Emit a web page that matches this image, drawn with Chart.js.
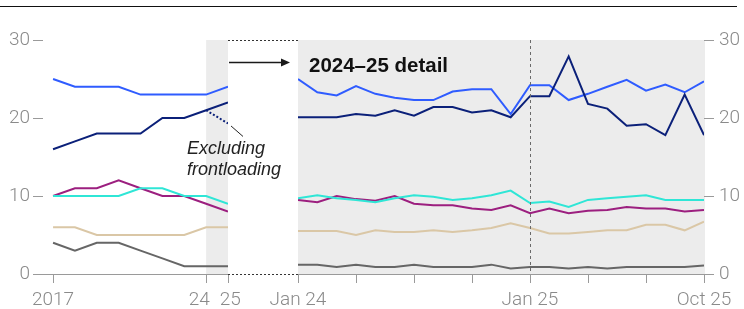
<!DOCTYPE html>
<html>
<head>
<meta charset="utf-8">
<script src="https://cdn.jsdelivr.net/npm/chart.js@4.4.1/dist/chart.umd.min.js"></script>
<style>
  html, body { margin: 0; padding: 0; background: #fff; }
  #wrap { position: relative; width: 744px; height: 309px; }
  #wrap canvas { position: absolute; left: 0; top: 0; }
</style>
</head>
<body>
<div id="wrap">
  <canvas id="annual" width="744" height="309"></canvas>
  <canvas id="monthly" width="744" height="309"></canvas>
</div>
<script>
// annual panel, 2017-2025
const years = [2017, 2018, 2019, 2020, 2021, 2022, 2023, 2024, 2025];
const yearTicks = [2017, 2024, 2025];
const navyYears = [16, 17, 18, 18, 18, 20, 20, 21, 22];
const blueYears = [25, 24, 24, 24, 23, 23, 23, 23, 24];
const cyanYears = [10, 10, 10, 10, 11, 11, 10, 10, 9];
const magentaYears = [10, 11, 11, 12, 11, 10, 10, 9, 8];
const tanYears = [6, 6, 5, 5, 5, 5, 5, 6, 6];
const grayYears = [4, 3, 4, 4, 3, 2, 1, 1, 1];
const exclFrontloading = [null, null, null, null, null, null, null, 21, 19.3];

// monthly detail, Jan 24 - Oct 25
const months = ["Jan 24", "Feb 24", "Mar 24", "Apr 24", "May 24", "Jun 24", "Jul 24", "Aug 24",
  "Sep 24", "Oct 24", "Nov 24", "Dec 24", "Jan 25", "Feb 25", "Mar 25", "Apr 25", "May 25",
  "Jun 25", "Jul 25", "Aug 25", "Sep 25", "Oct 25"];
const monthTicks = [0, 3, 6, 9, 12, 15, 18, 21];
const monthLabelled = ["Jan 24", "Jan 25", "Oct 25"];
const navyMonths = [20.1, 20.1, 20.1, 20.5, 20.3, 21.0, 20.3, 21.4, 21.4, 20.7, 21.0, 20.1,
  22.8, 22.8, 27.9, 21.8, 21.2, 19.0, 19.2, 17.8, 23.0, 17.8];
const blueMonths = [25.0, 23.3, 22.9, 24.1, 23.1, 22.6, 22.3, 22.3, 23.4, 23.7, 23.7, 20.5,
  24.2, 24.2, 22.3, 23.1, 24.0, 24.9, 23.5, 24.3, 23.3, 24.7];
const cyanMonths = [9.7, 10.1, 9.7, 9.5, 9.2, 9.7, 10.1, 9.9, 9.5, 9.7, 10.1, 10.7,
  9.1, 9.3, 8.6, 9.5, 9.7, 9.9, 10.1, 9.5, 9.5, 9.5];
const magentaMonths = [9.5, 9.2, 10.0, 9.6, 9.4, 10.0, 9.0, 8.8, 8.8, 8.4, 8.2, 8.8,
  7.8, 8.4, 7.8, 8.1, 8.2, 8.6, 8.4, 8.4, 8.0, 8.2];
const tanMonths = [5.5, 5.5, 5.5, 5.0, 5.6, 5.4, 5.4, 5.6, 5.4, 5.6, 5.9, 6.5,
  5.9, 5.2, 5.2, 5.4, 5.6, 5.6, 6.3, 6.3, 5.6, 6.7];
const grayMonths = [1.2, 1.2, 0.9, 1.2, 0.9, 0.9, 1.2, 0.9, 0.9, 0.9, 1.2, 0.7,
  0.9, 0.9, 0.7, 0.9, 0.7, 0.9, 0.9, 0.9, 0.9, 1.1];

const colors = {
  navy: "#0b2079",
  blue: "#2f5cff",
  cyan: "#2fe6d6",
  magenta: "#9c1f7f",
  tan: "#dac7a6",
  gray: "#666666"
};
const tickGray = "#8a8a8a";
const axisFont = { family: "Roboto, 'Liberation Sans', sans-serif", size: 19, weight: "300" };

const line = (data, color, extra) => Object.assign({
  data: data, borderColor: color, borderWidth: 2, pointRadius: 0, tension: 0, fill: false
}, extra || {});

const toXY = (xs, ys) => ys.map((v, i) => ({ x: xs[i], y: v }));
const idx = months.map((m, i) => i);

const yAxis = (pos, width, pad) => ({
  position: pos,
  min: 0, max: 30,
  ticks: { stepSize: 10, color: tickGray, font: axisFont, padding: pad },
  grid: {
    color: c => c.tick && c.tick.value === 0 ? "#9a9a9a" : "rgba(0,0,0,0)",
    tickColor: "#9a9a9a",
    tickLength: 10
  },
  border: { display: false },
  afterFit: s => { s.width = width; }
});

const xTickGrid = { drawOnChartArea: false, tickLength: 9, tickColor: "#9a9a9a" };

// the two close year labels are nudged apart with padding spaces, like the original
const yearLabel = v => {
  if (v === 2017) return "2017";
  if (v === 2024) return "24   ";
  return " " + String(v).slice(2);
};

// grey band for 2024-25 + top rule
const annualDecor = {
  id: "annualDecor",
  beforeDraw(chart) {
    const { ctx, chartArea: a, scales } = chart;
    ctx.save();
    ctx.strokeStyle = "#111";
    ctx.lineWidth = 1.2;
    ctx.beginPath();
    ctx.moveTo(0, 6.5);
    ctx.lineTo(737, 6.5);
    ctx.stroke();
    const x0 = scales.x.getPixelForValue(2024);
    ctx.fillStyle = "#ececec";
    ctx.fillRect(x0, a.top, a.right - x0, a.bottom - a.top);
    ctx.restore();
  },
  afterDraw(chart) {
    const { ctx, scales } = chart;
    const px = scales.x.getPixelForValue(2025);
    const py = scales.y.getPixelForValue(19.3);
    ctx.save();
    ctx.strokeStyle = "#222";
    ctx.lineWidth = 1;
    ctx.beginPath();
    ctx.moveTo(px + 3, py + 2.5);
    ctx.lineTo(px + 15, py + 13);
    ctx.stroke();
    ctx.fillStyle = "#222";
    ctx.font = "italic 18px 'Liberation Sans', Arial, sans-serif";
    ctx.textBaseline = "alphabetic";
    ctx.fillText("Excluding", 187, 154);
    ctx.fillText("frontloading", 187, 175);
    ctx.restore();
  }
};

const annualChart = new Chart(document.getElementById("annual"), {
  type: "line",
  data: {
    datasets: [
      line(toXY(years, exclFrontloading), colors.navy, { borderDash: [2, 2], spanGaps: false }),
      line(toXY(years, navyYears), colors.navy),
      line(toXY(years, blueYears), colors.blue),
      line(toXY(years, cyanYears), colors.cyan),
      line(toXY(years, magentaYears), colors.magenta),
      line(toXY(years, tanYears), colors.tan),
      line(toXY(years, grayYears), colors.gray)
    ]
  },
  options: {
    responsive: false,
    devicePixelRatio: 1,
    animation: false,
    layout: { padding: { top: 40, right: 516, left: 0, bottom: 0 } },
    plugins: { legend: { display: false }, tooltip: { enabled: false } },
    scales: {
      x: {
        type: "linear",
        min: 2016.54, max: 2025,
        afterBuildTicks: s => { s.ticks = yearTicks.map(v => ({ value: v })); },
        ticks: {
          autoSkip: false, maxRotation: 0, color: tickGray, font: axisFont, padding: 6,
          callback: yearLabel
        },
        grid: xTickGrid,
        border: { display: false },
        afterFit: s => { s.height = 35; }
      },
      y: yAxis("left", 43, 3)
    }
  },
  plugins: [annualDecor]
});

// grey panel, Jan 25 marker, connector and title
const monthlyDecor = {
  id: "monthlyDecor",
  beforeDraw(chart) {
    const { ctx, chartArea: a } = chart;
    ctx.save();
    ctx.fillStyle = "#ececec";
    ctx.fillRect(a.left, a.top, a.right - a.left + 1, a.bottom - a.top);
    ctx.restore();
  },
  afterDraw(chart) {
    const { ctx, chartArea: a, scales } = chart;
    const la = annualChart.chartArea;
    const xj = Math.round(scales.x.getPixelForValue(12)) + 0.5;
    ctx.save();
    ctx.strokeStyle = "#6a6a6a";
    ctx.lineWidth = 1;
    ctx.setLineDash([3, 3]);
    ctx.beginPath();
    ctx.moveTo(xj, a.top);
    ctx.lineTo(xj, a.bottom);
    ctx.stroke();

    // dotted frame linking the 2025 column to the detail panel
    ctx.strokeStyle = "#333";
    ctx.setLineDash([2, 2]);
    ctx.beginPath();
    ctx.moveTo(la.right, a.top + 0.5);
    ctx.lineTo(a.left, a.top + 0.5);
    ctx.moveTo(la.right, a.bottom + 0.5);
    ctx.lineTo(a.left, a.bottom + 0.5);
    ctx.stroke();
    ctx.setLineDash([]);

    // arrow
    const ay = a.top + 22.5;
    const tip = a.left - 8;
    ctx.strokeStyle = "#1a1a1a";
    ctx.lineWidth = 1.3;
    ctx.beginPath();
    ctx.moveTo(la.right + 1, ay);
    ctx.lineTo(tip - 6, ay);
    ctx.stroke();
    ctx.fillStyle = "#1a1a1a";
    ctx.beginPath();
    ctx.moveTo(tip, ay);
    ctx.lineTo(tip - 9, ay - 4);
    ctx.lineTo(tip - 9, ay + 4);
    ctx.closePath();
    ctx.fill();

    ctx.fillStyle = "#111";
    ctx.font = "bold 20.5px 'Liberation Sans', Arial, sans-serif";
    ctx.textBaseline = "alphabetic";
    ctx.fillText("2024\u201325 detail", a.left + 11, a.top + 32);
    ctx.restore();
  }
};

new Chart(document.getElementById("monthly"), {
  type: "line",
  data: {
    datasets: [
      line(toXY(idx, navyMonths), colors.navy),
      line(toXY(idx, blueMonths), colors.blue),
      line(toXY(idx, cyanMonths), colors.cyan),
      line(toXY(idx, magentaMonths), colors.magenta),
      line(toXY(idx, tanMonths), colors.tan),
      line(toXY(idx, grayMonths), colors.gray)
    ]
  },
  options: {
    responsive: false,
    devicePixelRatio: 1,
    animation: false,
    layout: { padding: { top: 40, right: 0, left: 298, bottom: 0 } },
    plugins: { legend: { display: false }, tooltip: { enabled: false } },
    scales: {
      x: {
        type: "linear",
        min: 0, max: months.length - 1,
        afterBuildTicks: s => { s.ticks = monthTicks.map(v => ({ value: v })); },
        ticks: {
          autoSkip: false, maxRotation: 0, color: tickGray, font: axisFont, padding: 6,
          callback: v => monthLabelled.includes(months[v]) ? months[v] : ""
        },
        grid: xTickGrid,
        border: { display: false },
        afterFit: s => { s.height = 35; }
      },
      y: yAxis("right", 40, 5)
    }
  },
  plugins: [monthlyDecor]
});
</script>
</body>
</html>
